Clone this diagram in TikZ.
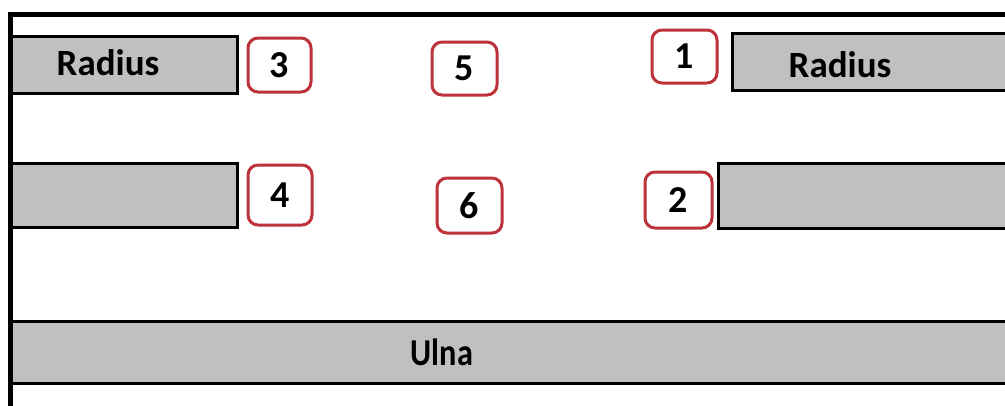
\documentclass[tikz,border=0pt]{standalone}
\usepackage{fontspec}
\setmainfont{Carlito}
\definecolor{bonegray}{RGB}{192,192,192}
\definecolor{numred}{RGB}{190,50,60}
\tikzset{
  bone/.style={draw=black, fill=bonegray, line width=3pt, inner sep=0pt},
  numbox/.style={draw=numred, fill=white, line width=3pt, rounded corners=10pt, inner sep=0pt, font=\fontsize{38}{38}\selectfont\bfseries},
  lbl/.style={inner sep=0pt, font=\fontsize{37}{37}\selectfont\bfseries},
  frame/.style={line width=5pt, line cap=rect}
}
\begin{document}
\begin{tikzpicture}[x=1pt, y=-1pt]
\clip (0,0) rectangle (1005,405);
\fill[white] (0,0) rectangle (1005,405);
% bones
\node[bone, minimum width=226pt, minimum height=57pt] (rtl) at (124,64.5) {};
\node[bone, minimum width=278pt, minimum height=57pt] (rtr) at (871,61.5) {};
\node[bone, minimum width=226pt, minimum height=64pt] (lbl) at (124,195) {};
\node[bone, minimum width=292pt, minimum height=65pt] (lbr) at (864,195.5) {};
\node[bone, minimum width=1000pt, minimum height=62pt] (ulna) at (511,352) {};
% labels
\node[lbl] (trad1) at (108,63) {Radius};
\node[lbl] (trad2) at (840,65) {Radius};
\node[lbl, font=\fontsize{38}{38}\selectfont\bfseries, xscale=0.85] (tulna) at (442,352) {Ulna};
% frame
\coordinate (ftl) at (10.5,14.5);
\coordinate (ftr) at (1010,14.5);
\coordinate (fbl) at (10.5,410);
\draw[frame] (ftr) -- (ftl) -- (fbl);
% numbers
\node[numbox, minimum width=63pt, minimum height=54pt] (n3) at (279.5,65) {3};
\node[numbox, minimum width=64pt, minimum height=60pt] (n4) at (280,195) {4};
\node[numbox, minimum width=65pt, minimum height=53pt] (n5) at (464.5,68.5) {5};
\node[numbox, minimum width=65pt, minimum height=53pt] (n1) at (684.5,56.5) {1};
\node[numbox, minimum width=65pt, minimum height=55pt] (n6) at (469.5,205.5) {6};
\node[numbox, minimum width=67pt, minimum height=56pt] (n2) at (678.5,200) {2};
\end{tikzpicture}
\end{document}
